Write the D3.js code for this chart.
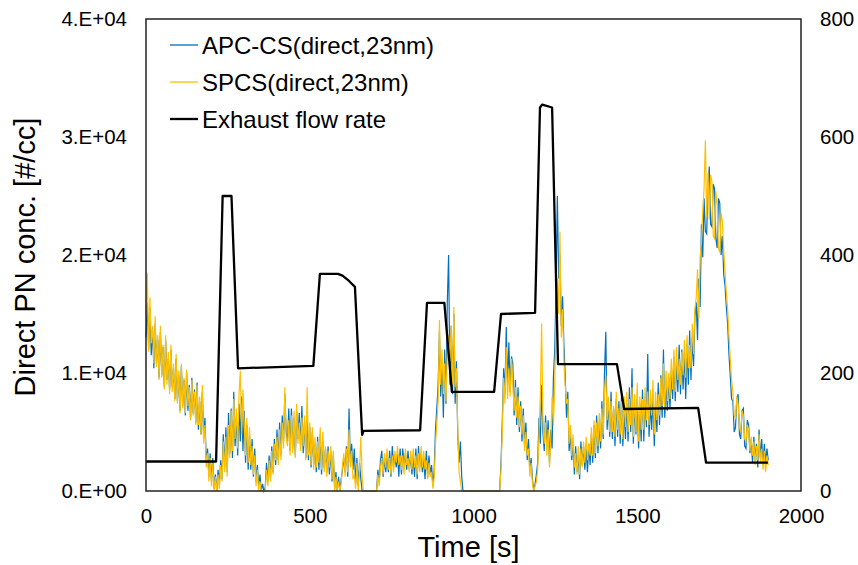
<!DOCTYPE html>
<html><head><meta charset="utf-8">
<script src="https://cdn.jsdelivr.net/npm/d3@7"></script>
<style>body{margin:0;background:#fff}svg{display:block}text{font-family:"Liberation Sans",Arial,sans-serif;fill:#000}</style>
</head><body><svg id="c" width="858" height="565"></svg>
<script>
// time step of the particle series (s)
const step = 4;
const apcValues = [
13000,16000,12000,15500,11500,13600,10400,14200,10800,12800,9600,13500,9800,12200,8800,12800,9400,11200,8600,12000,
8800,10400,7800,11200,7600,9800,6800,10600,7200,9400,6400,10000,6800,9000,6200,9600,6600,8600,5800,9200,
5200,7600,4800,8400,4600,6200,2400,3600,1200,3200,800,2800,200,1400,0,1800,500,2600,1000,4800,
2000,5400,1600,6600,3200,7000,2800,8400,3800,6200,3000,7400,4200,8000,3400,6800,2400,5600,1800,4800,
1800,4400,1200,3600,800,2200,400,1400,0,600,0,300,2400,800,3000,1200,3800,1600,4400,2200,
5200,2600,5800,3000,6400,4200,8200,5000,4200,7000,3400,7000,3600,6200,3000,6800,4400,6600,3800,7200,
3200,5800,2800,6400,2600,5400,2000,5000,2200,4000,1600,4600,1800,4800,1400,4200,2000,3600,1600,3800,
1400,3400,800,3000,200,1600,0,1200,0,1000,1800,2800,1600,3800,1200,7000,2400,4000,1800,3600,
600,2800,400,2400,1000,0,0,0,0,0,0,0,0,0,0,0,0,1800,800,2600,
3400,1200,2800,1600,3000,1600,3400,1200,3800,2200,3000,2000,3200,1200,3600,1400,3600,2000,3200,1800,
3400,1800,3000,1400,3000,1200,3600,1000,3800,2000,3200,1600,2800,1000,3400,1200,3000,1400,2200,400,
1800,5200,7000,9000,13500,8000,11000,6200,12000,7400,16000,20000,9000,14000,8200,15000,7400,11000,4600,2400,
4200,1200,0,0,0,0,0,0,0,0,0,0,0,0,0,0,0,0,0,0,
0,0,0,0,0,0,0,0,0,0,0,2400,6000,10400,8200,13900,9000,12600,8400,11400,
10800,6400,9400,5600,8800,5000,7600,4200,7000,3800,5800,2600,4400,1800,2800,1000,0,600,1400,2400,
6200,4000,9000,5000,3400,6400,4000,6000,2400,5200,3600,9600,12000,17000,25000,18000,20000,14000,16500,12400,
9800,6200,8400,3400,4800,2600,4200,1400,3800,1600,3000,1000,4200,2200,3800,1800,3600,1600,4000,2200,
4800,2400,5600,2800,6400,3200,5800,3600,7600,4400,10000,13500,5200,7400,4600,8400,4400,7000,3800,7800,
4600,7600,4000,8200,3800,6800,4400,7400,4200,8800,5000,10400,4000,7200,4800,7800,3600,7400,4200,8600,
4200,8000,5400,11600,4600,7400,5200,8000,3800,7600,5000,9200,5600,9800,6200,12000,6200,9000,6800,9600,
7000,10200,7800,11400,7600,11000,8400,12400,8200,12000,8600,11800,7800,12400,9000,13600,9400,13000,10600,14800,
16000,12800,18000,15600,22600,19800,24800,22000,21800,25800,27500,22600,22400,26000,25600,21400,20600,24800,24400,20000,
21600,18400,17400,15600,14200,11600,9800,7800,7600,5000,5400,7800,8200,4800,4400,6800,7000,3800,3600,6000,
5600,3200,4400,2400,4600,2600,4000,2000,5200,2800,4400,2200,4000,2400,3600,2600];
const spcsValues = [
15000,18500,11800,16400,12500,14000,10800,14800,10500,13200,9400,14000,9600,12400,8600,13200,9000,11800,8200,12400,
8400,10800,7600,11600,7400,10200,6600,10800,7000,9600,6600,10300,7200,8800,6000,9400,6400,8400,5600,9000,
5600,8000,4800,9000,4000,5600,2000,3200,800,2800,400,2400,0,1200,0,1400,200,2200,800,4200,
1600,4600,1200,5600,2800,6800,3400,7800,4400,7000,3600,8200,10200,4800,8600,5600,3000,6200,2400,5400,
2200,3800,1400,3000,400,1800,0,800,0,0,0,0,1800,400,2600,800,3400,1400,4000,2600,
4600,2200,5200,2600,5800,3600,8800,4400,3800,6000,3000,6400,3200,6800,2800,7400,4000,5800,3400,6200,
3800,6400,2600,8800,3000,5800,2200,5400,1800,4600,2000,4200,2400,5400,1800,5000,1600,3800,1200,3400,
2000,3800,1000,3400,0,1200,0,800,0,600,2200,3200,1200,3600,1600,5200,2000,3400,1000,1400,
200,2400,0,1800,4600,1200,0,0,0,0,0,0,0,0,0,0,0,1400,400,2000,
2800,1400,3200,2000,3600,1800,2800,1400,3000,1600,3400,2400,3800,2200,3000,1800,3000,1400,3600,2200,
2800,1600,3400,1800,3600,2000,3000,1400,3200,1600,3800,2000,3400,1800,2600,1000,2400,1200,1600,200,
1200,4000,5800,7600,14500,9000,12000,8200,10800,7600,11800,13200,11000,14000,9000,15600,8800,10400,5200,1600,
800,0,0,0,0,0,0,0,0,0,0,0,0,0,0,0,0,0,0,0,
0,0,0,0,0,0,0,0,0,0,0,1800,5200,9600,7400,12200,7800,10400,8000,11200,
9200,6800,8800,6200,8000,5400,7200,4800,6400,3400,5000,3000,3600,1200,2400,600,0,400,800,1800,
4800,8000,14200,6000,4000,5800,3000,5200,2000,4400,8000,5600,9000,14000,18000,15000,22000,13000,15400,11000,
9000,7400,7800,4000,5600,3000,4800,2000,3200,1400,3800,1400,3600,2000,4200,2400,4600,2600,4000,3000,
5400,3000,6000,3200,5800,3800,6600,4200,7000,4800,8600,9800,6000,8000,5000,7600,5000,7200,4600,8400,
5200,7000,4800,7600,4400,8000,5400,8400,5000,7800,5600,8800,4600,8200,5000,9200,4200,8000,5200,7800,
5200,8800,6000,8400,5600,8600,6400,9400,4800,8400,6000,8200,6400,9600,7200,10800,7000,10200,7600,10000,
7800,11200,8600,12000,8400,12200,9400,11200,9000,11800,9800,12800,9600,13200,10400,12400,10400,14200,11600,15400,
16400,18800,14600,19800,21000,23800,25600,29700,23200,27000,23000,26800,26200,21600,21400,25400,24200,20600,20200,23600,
22800,20400,18600,16800,15400,13200,11200,9400,8400,6400,6200,8000,7400,5400,5000,6800,6400,4400,4200,5600,
5200,3400,4600,3000,4200,2200,3800,2600,4800,2400,3600,1800,3400,1600,3000,2200];
// exhaust flow rate breakpoints
const flowTime = [0,214,234,261,281,511,531,586,600,620,638,660,664,837,858,911,934,1063,1084,1188,1203,1210,1240,1258,1438,1460,1686,1710,1899];
const flowValues = [50,50,500,500,208,212,368,368,365,356,346,95,102,103,319,319,168,168,300,302,650,655,650,215,215,139,141,48,48];
const leftTicks = [0,10000,20000,30000,40000];
const leftTickLabels = ["0.E+00","1.E+04","2.E+04","3.E+04","4.E+04"];
const rightTicks = [0,200,400,600,800];
const xTicks = [0,500,1000,1500,2000];
const seriesNames = ["APC-CS(direct,23nm)","SPCS(direct,23nm)","Exhaust flow rate"];

const L=146,R=801,T=19,B=491;
const svg=d3.select("#c");
const x=d3.scaleLinear().domain([0,2000]).range([L,R]);
const yL=d3.scaleLinear().domain([0,40000]).range([B,T]);
const yR=d3.scaleLinear().domain([0,800]).range([B,T]);

const apc=apcValues.map((v,i)=>[i*step,v]);
const spcs=spcsValues.map((v,i)=>[i*step,v]);
const flow=flowTime.map((t,i)=>[t,flowValues[i]]);

const lineL=d3.line().x(d=>x(d[0])).y(d=>yL(d[1]));
const lineR=d3.line().x(d=>x(d[0])).y(d=>yR(d[1]));

svg.append("path").datum(apc).attr("d",lineL).attr("fill","none").attr("stroke","#0070C0").attr("stroke-width",1.2);
svg.append("path").datum(spcs).attr("d",lineL).attr("fill","none").attr("stroke","#FFC000").attr("stroke-width",1.2);
svg.append("path").datum(flow).attr("d",lineR).attr("fill","none").attr("stroke","#000").attr("stroke-width",2.3).attr("stroke-linejoin","round");

svg.append("rect").attr("x",L).attr("y",T).attr("width",R-L).attr("height",B-T).attr("fill","none").attr("stroke","#222").attr("stroke-width",1.5);

// axes
const ax=d3.axisLeft(yL).tickValues(leftTicks).tickFormat((d,i)=>leftTickLabels[i]).tickSize(0).tickPadding(19);
const gl=svg.append("g").attr("transform",`translate(${L},0)`).call(ax);
const ar=d3.axisRight(yR).tickValues(rightTicks).tickFormat(d3.format("d")).tickSize(0).tickPadding(19);
const gr=svg.append("g").attr("transform",`translate(${R},0)`).call(ar);
const axb=d3.axisBottom(x).tickValues(xTicks).tickFormat(d3.format("d")).tickSize(0).tickPadding(17);
const gb=svg.append("g").attr("transform",`translate(0,${B})`).call(axb);
[gl,gr,gb].forEach(g=>{g.select(".domain").remove();g.selectAll("text").attr("font-size",20.5).attr("font-family","Liberation Sans, Arial, sans-serif").attr("fill","#000");});

svg.append("text").attr("x",(L+R)/2-5).attr("y",557).attr("text-anchor","middle").attr("font-size",29).text("Time [s]");
svg.append("text").attr("transform",`translate(35,${(T+B)/2+2}) rotate(-90)`).attr("text-anchor","middle").attr("font-size",29).text("Direct PN conc. [#/cc]");

// legend
const legColors=["#0070C0","#FFC000","#000"];
const legW=[1.3,1.3,2.3];
const lg=svg.append("g");
seriesNames.forEach((n,i)=>{
  const yy=45+i*37;
  lg.append("line").attr("x1",170).attr("x2",198).attr("y1",yy).attr("y2",yy).attr("stroke",legColors[i]).attr("stroke-width",legW[i]);
  lg.append("text").attr("x",202).attr("y",yy+8.5).attr("font-size",24).text(n);
});
</script></body></html>
